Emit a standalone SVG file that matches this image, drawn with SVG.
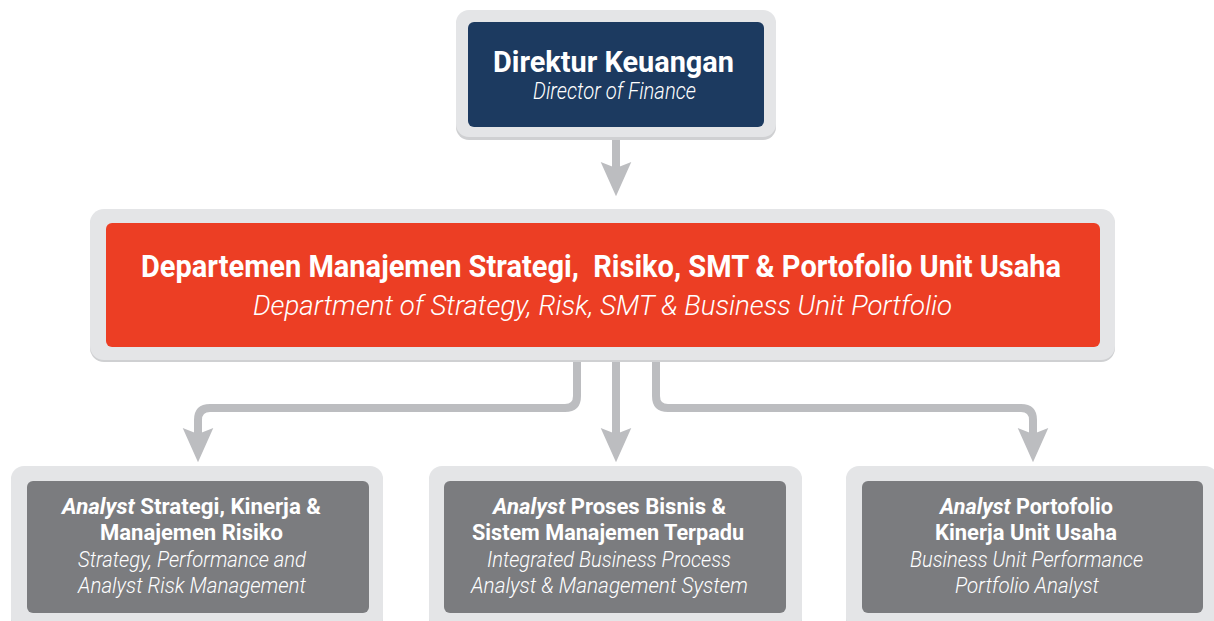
<svg xmlns="http://www.w3.org/2000/svg" width="1214" height="621" viewBox="0 0 1214 621">
<style>
.shell{fill:#e4e5e7}
.shadow{fill:#cfd0d2}
.t{font-family:Roboto,"Liberation Sans",sans-serif;fill:#ffffff;text-anchor:middle}
.b{font-weight:700}
.i{font-style:italic;font-weight:300}
.bi{font-style:italic;font-weight:700}
.conn{fill:none;stroke:#bcbdc0;stroke-width:8}
</style>
<defs>
<marker id="arr" markerUnits="userSpaceOnUse" orient="auto" refX="0" refY="0" markerWidth="40" markerHeight="40" viewBox="-8 -14 34 28" overflow="visible">
<path d="M24,0 L-5,-13 L0,0 L-5,13 Z" fill="#bcbdc0"/>
</marker>
</defs>
<g id="connectors">
<path class="conn" d="M616,138 V168" marker-end="url(#arr)"/>
<path class="conn" d="M616,361 V434" marker-end="url(#arr)"/>
<path class="conn" d="M577,361 V396 Q577,408 565,408 H210 Q198,408 198,420 V434" marker-end="url(#arr)"/>
<path class="conn" d="M656,361 V396 Q656,408 668,408 H1021 Q1033,408 1033,420 V434" marker-end="url(#arr)"/>
</g>
<g id="director">
<rect class="shadow" x="456" y="12" width="320" height="128" rx="13"/>
<rect class="shell" x="456" y="10" width="320" height="127" rx="13"/>
<rect x="468" y="22" width="296" height="105" rx="6" fill="#1c3a60"/>
<text class="t b" x="613.5" y="72" font-size="29" textLength="241" lengthAdjust="spacingAndGlyphs">Direktur Keuangan</text>
<text class="t i" x="614.5" y="99" font-size="23" textLength="163" lengthAdjust="spacingAndGlyphs">Director of Finance</text>
</g>
<g id="department">
<rect class="shadow" x="90" y="211" width="1025" height="151" rx="14"/>
<rect class="shell" x="90" y="209" width="1025" height="151" rx="14"/>
<rect x="106" y="223" width="994" height="124" rx="6" fill="#ec3e24"/>
<text class="t b" x="601" y="277" font-size="31" textLength="920" lengthAdjust="spacingAndGlyphs" xml:space="preserve">Departemen Manajemen Strategi,  Risiko, SMT &amp; Portofolio Unit Usaha</text>
<text class="t i" x="602.5" y="315" font-size="28" textLength="699" lengthAdjust="spacingAndGlyphs">Department of Strategy, Risk, SMT &amp; Business Unit Portfolio</text>
</g>
<g id="analyst-strategy">
<rect class="shadow" x="11" y="468" width="372" height="165" rx="13"/>
<rect class="shell" x="11" y="466" width="372" height="165" rx="13"/>
<rect x="27" y="481" width="342" height="132" rx="6" fill="#7b7c7f"/>
<text class="t" x="191.5" y="514" font-size="22" textLength="259" lengthAdjust="spacingAndGlyphs"><tspan class="bi">Analyst</tspan><tspan class="b"> Strategi, Kinerja &amp;</tspan></text>
<text class="t b" x="191.5" y="540" font-size="22" textLength="183" lengthAdjust="spacingAndGlyphs">Manajemen Risiko</text>
<text class="t i" x="192" y="567" font-size="22" textLength="228" lengthAdjust="spacingAndGlyphs">Strategy, Performance and</text>
<text class="t i" x="192" y="593" font-size="22" textLength="228" lengthAdjust="spacingAndGlyphs">Analyst Risk Management</text>
</g>
<g id="analyst-process">
<rect class="shadow" x="429" y="468" width="373" height="165" rx="13"/>
<rect class="shell" x="429" y="466" width="373" height="165" rx="13"/>
<rect x="444" y="481" width="342" height="132" rx="6" fill="#7b7c7f"/>
<text class="t" x="609.5" y="514" font-size="22" textLength="233" lengthAdjust="spacingAndGlyphs"><tspan class="bi">Analyst</tspan><tspan class="b"> Proses Bisnis &amp;</tspan></text>
<text class="t b" x="608" y="540" font-size="22" textLength="272" lengthAdjust="spacingAndGlyphs">Sistem Manajemen Terpadu</text>
<text class="t i" x="609" y="567" font-size="22" textLength="244" lengthAdjust="spacingAndGlyphs">Integrated Business Process</text>
<text class="t i" x="609.5" y="593" font-size="22" textLength="277" lengthAdjust="spacingAndGlyphs">Analyst &amp; Management System</text>
</g>
<g id="analyst-portfolio">
<rect class="shadow" x="846" y="468" width="372" height="165" rx="13"/>
<rect class="shell" x="846" y="466" width="372" height="165" rx="13"/>
<rect x="862" y="481" width="341" height="132" rx="6" fill="#7b7c7f"/>
<text class="t" x="1026.5" y="514" font-size="22" textLength="173" lengthAdjust="spacingAndGlyphs"><tspan class="bi">Analyst</tspan><tspan class="b"> Portofolio</tspan></text>
<text class="t b" x="1026" y="540" font-size="22" textLength="182" lengthAdjust="spacingAndGlyphs">Kinerja Unit Usaha</text>
<text class="t i" x="1026.5" y="567" font-size="22" textLength="233" lengthAdjust="spacingAndGlyphs">Business Unit Performance</text>
<text class="t i" x="1027" y="593" font-size="22" textLength="144" lengthAdjust="spacingAndGlyphs">Portfolio Analyst</text>
</g>
</svg>
